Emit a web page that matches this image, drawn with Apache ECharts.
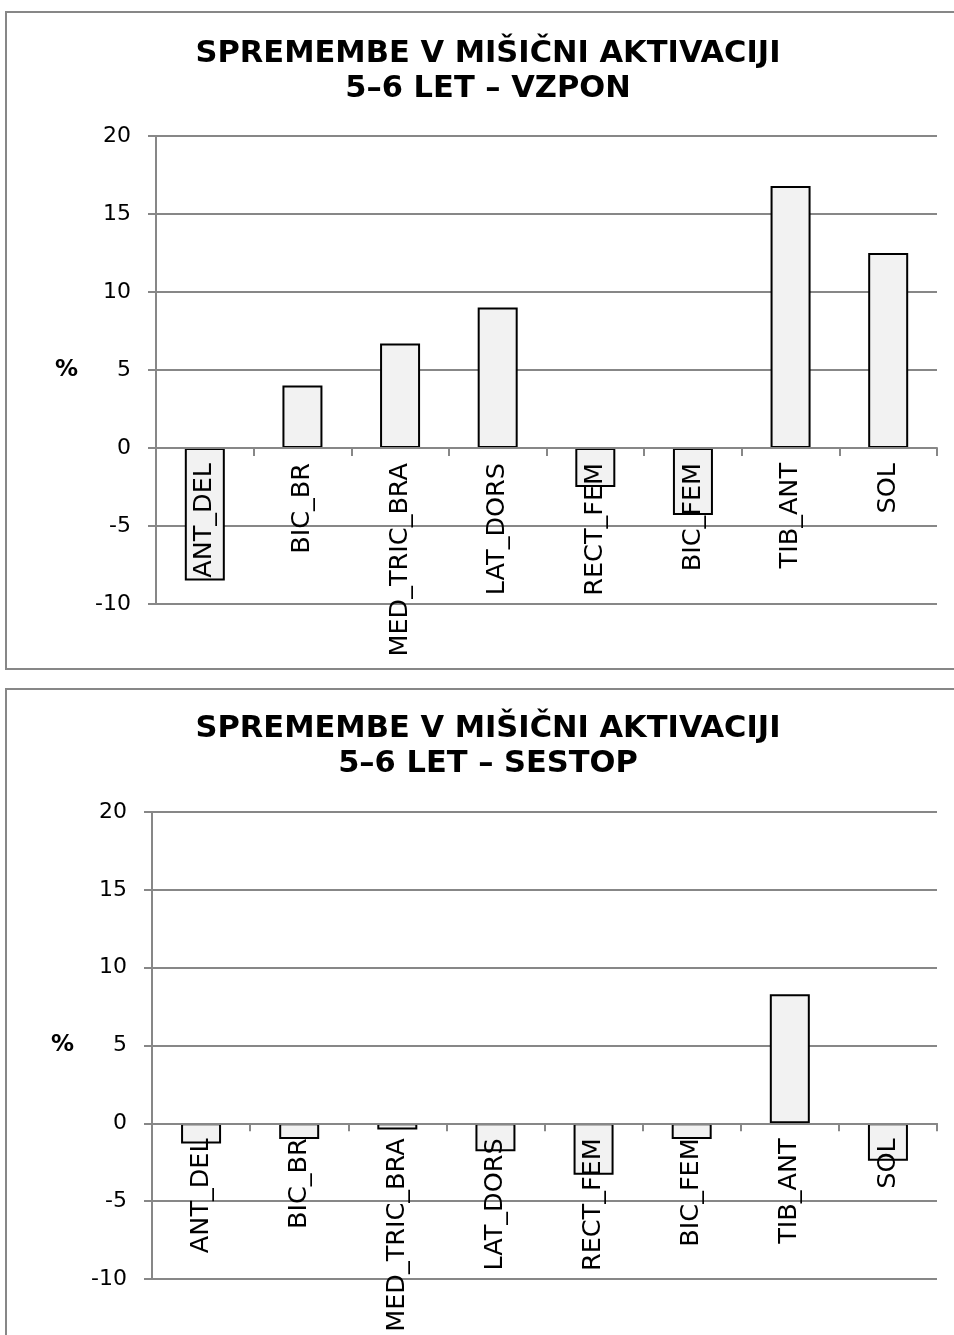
<!DOCTYPE html>
<html>
<head>
<meta charset="utf-8">
<script src="https://cdn.jsdelivr.net/npm/echarts@6/dist/echarts.min.js"></script>
<style>
  html, body { margin: 0; padding: 0; background: #fff; }
  #chart { width: 954px; height: 1335px; }
</style>
</head>
<body>
<div id="chart"></div>
<script>
// Muscles measured
const categories = ['ANT_DEL', 'BIC_BR', 'MED_TRIC_BRA', 'LAT_DORS', 'RECT_FEM', 'BIC_FEM', 'TIB_ANT', 'SOL'];
// Change in muscle activation (%), ascent
const ascentValues = [-8.5, 4.0, 6.7, 9.0, -2.5, -4.3, 16.8, 12.5];
// Change in muscle activation (%), descent
const descentValues = [-1.3, -1.0, -0.4, -1.8, -3.3, -1.0, 8.3, -2.4];
const titles = ['SPREMEMBE V MIŠIČNI AKTIVACIJI\n5–6 LET – VZPON', 'SPREMEMBE V MIŠIČNI AKTIVACIJI\n5–6 LET – SESTOP'];
const yMin = -10, yMax = 20, yStep = 5;

const FONT = 'DejaVu Sans, Verdana, sans-serif';
const GREY = '#878787';

// Panel geometry (page pixels)
const panels = [
  { frameTop: 12, frameBottom: 669, gridTop: 136, gridBottom: 604, gridLeft: 156, titleTop: 32 },
  { frameTop: 689, frameBottom: 1360, gridTop: 812, gridBottom: 1279, gridLeft: 152, titleTop: 707 }
];
const gridRight = 937;

const chart = echarts.init(document.getElementById('chart'), null, { renderer: 'canvas' });

// Lift the category axis from the grid bottom up to the zero line
function zeroOffset(p) {
  const h = p.gridBottom - p.gridTop;
  return -((0 - yMin) / (yMax - yMin)) * h;
}

const option = {
  animation: false,
  backgroundColor: '#fff',
  title: panels.map((p, i) => ({
    text: titles[i],
    left: 483,
    top: p.titleTop,
    textAlign: 'center',
    textStyle: { fontFamily: FONT, fontSize: 30.5, fontWeight: 'bold', color: '#000', lineHeight: 35 }
  })),
  graphic: panels.map(p => ({
    type: 'rect',
    silent: true,
    z: -1,
    shape: { x: 6, y: p.frameTop, width: 1000, height: p.frameBottom - p.frameTop },
    style: { fill: 'none', stroke: GREY, lineWidth: 2 }
  })),
  grid: panels.map(p => ({
    left: p.gridLeft, top: p.gridTop, width: gridRight - p.gridLeft, height: p.gridBottom - p.gridTop
  })),
  xAxis: panels.map((p, i) => ({
    type: 'category',
    gridIndex: i,
    data: categories,
    boundaryGap: true,
    position: 'bottom',
    offset: zeroOffset(p),
    axisLine: { onZero: false, lineStyle: { color: GREY, width: 2 } },
    axisTick: { show: true, interval: 0, length: 8, lineStyle: { color: GREY, width: 2 } },
    axisLabel: { interval: 0, rotate: 90, margin: 15, fontFamily: FONT, fontSize: 25.5, color: '#000' },
    splitLine: { show: false },
    z: 5
  })),
  yAxis: panels.map((p, i) => ({
    type: 'value',
    gridIndex: i,
    min: yMin, max: yMax, interval: yStep,
    name: '%',
    nameLocation: 'middle',
    nameRotate: 0,
    nameGap: 78,
    nameTextStyle: { fontFamily: FONT, fontSize: 23, fontWeight: 'bold', color: '#000' },
    axisLine: { show: true, lineStyle: { color: GREY, width: 2 } },
    axisTick: { show: true, length: 8, lineStyle: { color: GREY, width: 2 } },
    axisLabel: { margin: 25, fontFamily: FONT, fontSize: 22, color: '#000' },
    splitLine: { show: true, lineStyle: { color: GREY, width: 2 } }
  })),
  series: [ascentValues, descentValues].map((vals, i) => ({
    type: 'bar',
    xAxisIndex: i,
    yAxisIndex: i,
    data: vals,
    barWidth: 40,
    itemStyle: { color: '#f2f2f2', borderColor: '#000', borderWidth: 2 },
    z: 3
  }))
};

chart.setOption(option);
</script>
</body>
</html>
